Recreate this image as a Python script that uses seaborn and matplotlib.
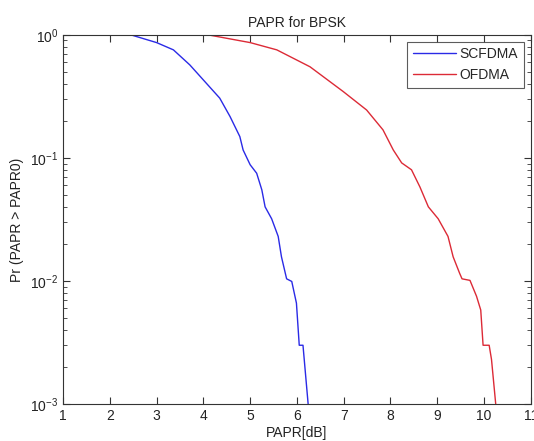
import numpy as np
import pandas as pd
import matplotlib
matplotlib.use("Agg")
import matplotlib.pyplot as plt
import seaborn as sns

# CCDF of PAPR
scfdma_papr = [2.45, 3.00, 3.36, 3.71, 4.00, 4.35, 4.57, 4.78, 4.85, 5.00, 5.14,
               5.25, 5.32, 5.46, 5.60, 5.67, 5.78, 5.89, 5.99, 6.05, 6.13, 6.24]
scfdma_prob = [1.0, 0.865, 0.755, 0.57, 0.43, 0.306, 0.217, 0.149, 0.116, 0.088, 0.075,
               0.055, 0.040, 0.032, 0.023, 0.0157, 0.0104, 0.0099, 0.0066, 0.0030, 0.0030, 0.001]

ofdma_papr = [4.10, 5.00, 5.57, 6.28, 6.99, 7.49, 7.84, 8.06, 8.24, 8.45, 8.63,
              8.81, 9.02, 9.23, 9.34, 9.48, 9.53, 9.70, 9.84, 9.93, 9.98, 10.11, 10.16, 10.25]
ofdma_prob = [1.0, 0.865, 0.755, 0.55, 0.346, 0.245, 0.169, 0.116, 0.091, 0.080, 0.058,
              0.040, 0.032, 0.023, 0.0157, 0.0115, 0.0104, 0.0101, 0.0075, 0.0058, 0.0030,
              0.0030, 0.0023, 0.001]

x_ticks = list(range(1, 12))

sns.set_style("ticks")
plt.rcParams["font.family"] = ["Liberation Sans", "DejaVu Sans"]
plt.rcParams["font.size"] = 10

df = pd.concat([
    pd.DataFrame({"papr": scfdma_papr, "prob": scfdma_prob, "scheme": "SCFDMA"}),
    pd.DataFrame({"papr": ofdma_papr, "prob": ofdma_prob, "scheme": "OFDMA"}),
])

fig = plt.figure(figsize=(5.34, 4.41), dpi=100)
ax = fig.add_axes([0.118, 0.084, 0.876, 0.837])

sns.lineplot(
    data=df, x="papr", y="prob", hue="scheme",
    palette={"SCFDMA": "#2a2ae6", "OFDMA": "#dc2a36"},
    sort=False, estimator=None, linewidth=1.0, ax=ax,
)

ax.set_yscale("log")
ax.set_xlim(1, 11)
ax.set_ylim(1e-3, 1)
ax.set_xticks(x_ticks)
ax.tick_params(which="both", direction="in", top=True, right=True, color="#333333",
               labelcolor="#222222")
ax.tick_params(which="major", length=5)
ax.tick_params(which="minor", length=3)
for sp in ax.spines.values():
    sp.set_visible(True)
    sp.set_color("#333333")
    sp.set_linewidth(0.8)

ax.set_title("PAPR for BPSK", fontsize=10, color="#222222")
ax.set_xlabel("PAPR[dB]", fontsize=10, color="#222222", labelpad=2)
ax.set_ylabel("Pr (PAPR > PAPR0)", fontsize=10, color="#222222")

leg = ax.legend(loc="upper right", frameon=True, fancybox=False, handlelength=3.1,
                handletextpad=0.3, borderaxespad=0.5, borderpad=0.4, fontsize=10)
leg.get_frame().set_edgecolor("#333333")
leg.get_frame().set_linewidth(0.8)
leg.set_title(None)

fig.savefig("out.png", dpi=100)
